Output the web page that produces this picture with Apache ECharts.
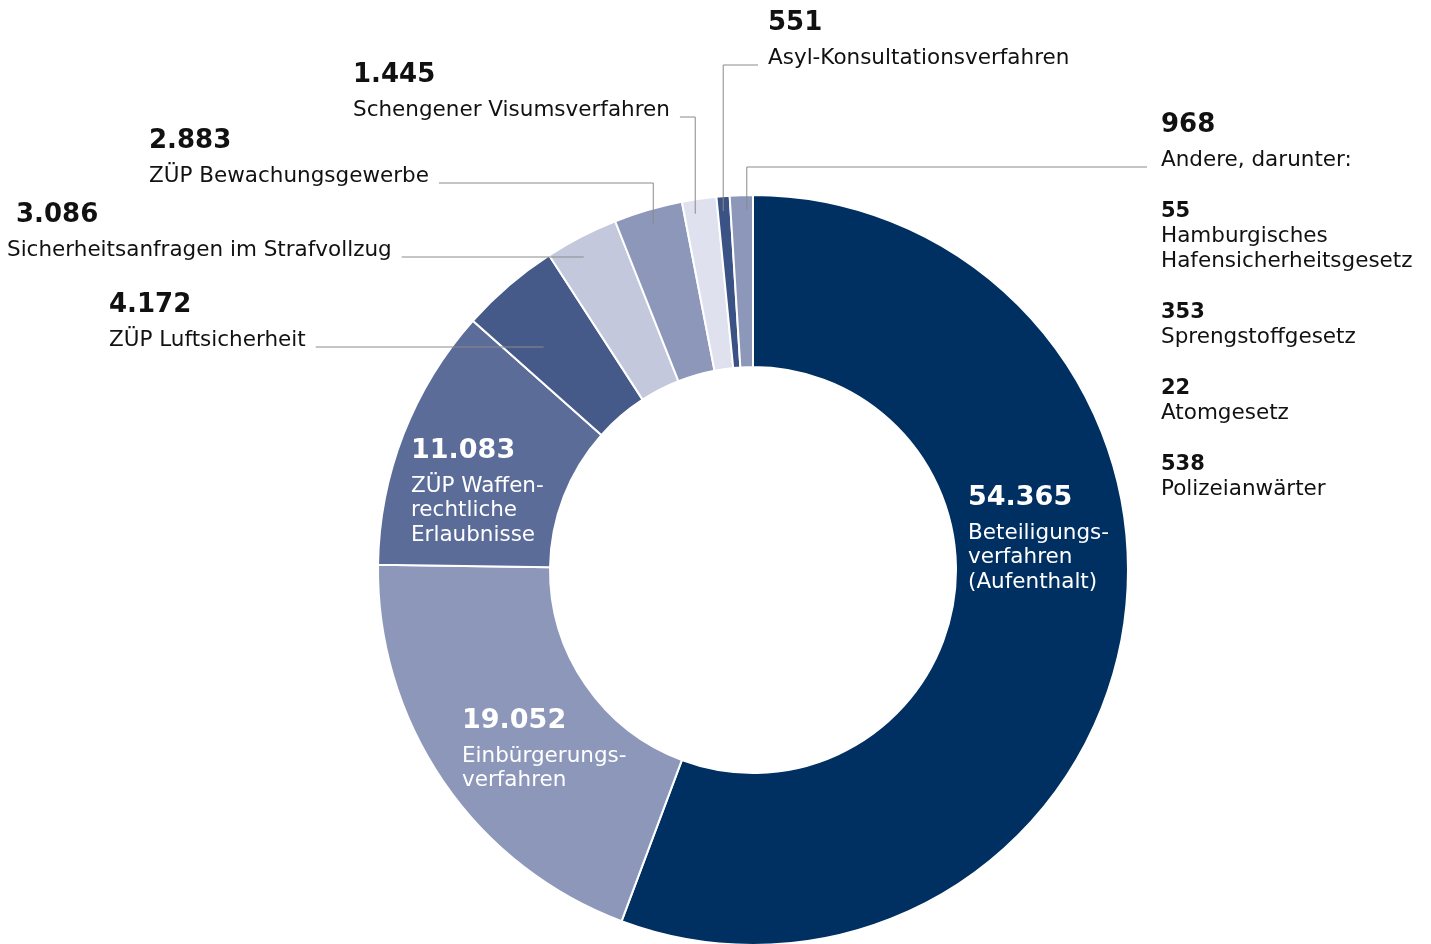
<!DOCTYPE html>
<html>
<head>
<meta charset="utf-8">
<script src="https://cdn.jsdelivr.net/npm/echarts@6/dist/echarts.min.js"></script>
<style>html,body{margin:0;padding:0;background:#fff}#c{width:1431px;height:944px}</style>
</head>
<body>
<div id="c"></div>
<script>
// ---- data ----
const CATEGORIES = [
  'Beteiligungs-\nverfahren\n(Aufenthalt)',
  'Einbürgerungs-\nverfahren',
  'ZÜP Waffen-\nrechtliche\nErlaubnisse',
  'ZÜP Luftsicherheit',
  'Sicherheitsanfragen im Strafvollzug',
  'ZÜP Bewachungsgewerbe',
  'Schengener Visumsverfahren',
  'Asyl-Konsultationsverfahren',
  'Andere, darunter:'
];
const VALUES = [54365, 19052, 11083, 4172, 3086, 2883, 1445, 551, 968];
const SUB_CATEGORIES = ['Hamburgisches\nHafensicherheitsgesetz', 'Sprengstoffgesetz', 'Atomgesetz', 'Polizeianwärter'];
const SUB_VALUES = [55, 353, 22, 538];

// ---- styling / layout ----
const COLORS = ['#002f62', '#8c97ba', '#5c6c99', '#465a8a', '#c4c8dd', '#8c97ba', '#dfe2ee', '#3b5284', '#8c97ba'];
const CX = 753, CY = 570, R0 = 203, R1 = 375, RL = 360;
const FONT = 'DejaVu Sans';
const PLACE = [
  {x: 968, y: 475, type: 'inside'},
  {x: 462, y: 698, type: 'inside'},
  {x: 411, y: 428, type: 'inside'},
  {x: 109, y: 287, type: 'hline', reach: -18},
  {x: 7,   y: 197, type: 'hline', pad: true, reach: -8},
  {x: 149, y: 123, type: 'leftTop', shift: 1},
  {x: 353, y: 57,  type: 'leftTop', shift: -6},
  {x: 768, y: 5,   type: 'rightTop', gap: 10, shift: -1},
  {x: 1161, y: 107, type: 'rightTop', gap: 14, shift: 5}
];

const fmt = v => String(v).replace(/\B(?=(\d{3})+(?!\d))/g, '.');
const TOTAL = VALUES.reduce((a, b) => a + b, 0);
const MID = [];
(function () { let c = 0; VALUES.forEach(v => { MID.push((c + v / 2) / TOTAL * 360); c += v; }); })();

function formatter(p) {
  const i = p.dataIndex, pl = PLACE[i];
  const lines = CATEGORIES[i].split('\n');
  if (pl.type === 'inside') {
    return '{inum|' + fmt(VALUES[i]) + '}\n' + lines.map(l => '{iname|' + l + '}').join('\n');
  }
  let s = '{' + (pl.pad ? 'numPad' : 'num') + '|' + fmt(VALUES[i]) + '}\n' + lines.map(l => '{name|' + l + '}').join('\n');
  if (i === VALUES.length - 1) {
    SUB_VALUES.forEach((v, k) => {
      s += '\n{' + (k === 0 ? 'gap1' : 'gap2') + '| }';
      s += '\n{snum|' + fmt(v) + '}\n' + SUB_CATEGORIES[k].split('\n').map(l => '{sname|' + l + '}').join('\n');
    });
  }
  return s;
}

function labelLayout(params) {
  const i = params.dataIndex, p = PLACE[i];
  const res = {x: p.x, y: p.y, align: 'left', verticalAlign: 'top'};
  if (p.type === 'inside') return res;
  const th = MID[i] * Math.PI / 180, s = Math.sin(th), c = Math.cos(th);
  const lineY = p.y + 60;
  if (p.type === 'hline') {
    const r = (CY - lineY) / c;
    const ex = CX + r * s + (p.reach || 0);
    const sx = p.x + params.labelRect.width + 10;
    res.labelLinePoints = [[ex, lineY], [ex, lineY], [sx, lineY]];
  } else if (p.type === 'leftTop') {
    const ex = CX + RL * s + (p.shift || 0), ey = CY - RL * c;
    const sx = p.x + params.labelRect.width + 10;
    res.labelLinePoints = [[ex, ey], [ex, lineY], [sx, lineY]];
  } else {
    const ex = CX + RL * s + (p.shift || 0), ey = CY - RL * c;
    res.labelLinePoints = [[ex, ey], [ex, lineY], [p.x - p.gap, lineY]];
  }
  return res;
}

const txt = '#111111';
const rich = {
  num:    {fontFamily: FONT, fontSize: 26, fontWeight: 'bold', lineHeight: 36, color: txt},
  numPad: {fontFamily: FONT, fontSize: 26, fontWeight: 'bold', lineHeight: 36, color: txt, padding: [0, 0, 0, 9]},
  name:   {fontFamily: FONT, fontSize: 21.5, lineHeight: 34, color: txt},
  inum:   {fontFamily: FONT, fontSize: 27, fontWeight: 'bold', lineHeight: 46, color: '#ffffff'},
  iname:  {fontFamily: FONT, fontSize: 21.5, lineHeight: 24.5, color: '#ffffff'},
  gap1:   {fontFamily: FONT, fontSize: 10, lineHeight: 22},
  gap2:   {fontFamily: FONT, fontSize: 10, lineHeight: 26},
  snum:   {fontFamily: FONT, fontSize: 21, fontWeight: 'bold', lineHeight: 25, color: txt},
  sname:  {fontFamily: FONT, fontSize: 21.5, lineHeight: 25, color: txt}
};

const pieBase = {
  type: 'pie',
  center: [CX, CY],
  radius: [R0, R1],
  startAngle: 90,
  clockwise: true,
  avoidLabelOverlap: false,
  silent: true
};

const chart = echarts.init(document.getElementById('c'), null, {renderer: 'canvas'});
chart.setOption({
  animation: false,
  backgroundColor: '#ffffff',
  series: [
    Object.assign({}, pieBase, {
      z: 2,
      itemStyle: {borderColor: '#ffffff', borderWidth: 2},
      label: {show: false},
      labelLine: {show: false},
      data: VALUES.map((v, i) => ({value: v, name: CATEGORIES[i], itemStyle: {color: COLORS[i]}}))
    }),
    // overlay carrying the labels and leader lines above the slices
    Object.assign({}, pieBase, {
      z: 5,
      itemStyle: {color: 'rgba(0,0,0,0)', borderWidth: 0},
      label: {show: true, position: 'outside', formatter: formatter, rich: rich, fontFamily: FONT},
      labelLine: {show: true, showAbove: true, length: 10, length2: 10, lineStyle: {color: '#8a8a8a', width: 1, opacity: 1}},
      labelLayout: labelLayout,
      data: VALUES.map((v, i) => ({
        value: v,
        name: CATEGORIES[i],
        labelLine: {show: PLACE[i].type !== 'inside'}
      }))
    })
  ]
});
</script>
</body>
</html>
